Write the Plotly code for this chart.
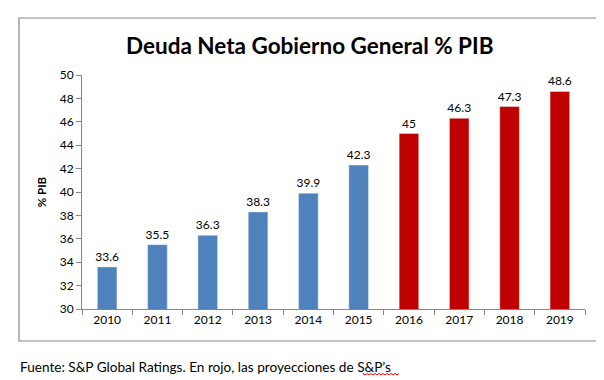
import plotly.graph_objects as go

years = ["2010", "2011", "2012", "2013", "2014", "2015", "2016", "2017", "2018", "2019"]
values = [33.6, 35.5, 36.3, 38.3, 39.9, 42.3, 45, 46.3, 47.3, 48.6]
projected = [False, False, False, False, False, False, True, True, True, True]
labels = ["33.6", "35.5", "36.3", "38.3", "39.9", "42.3", "45", "46.3", "47.3", "48.6"]

BLUE = "#4F81BD"
RED = "#C00000"
colors = [RED if p else BLUE for p in projected]

FONT = "Lato"
W, H = 604, 380
L, R, T, B = 74, 27, 67, 79
pw, ph = W - L - R, H - T - B

def px(x):
    return (x - L) / pw

def py(y):
    return (H - B - y) / ph

fig = go.Figure(go.Bar(
    x=years, y=values, marker_color=colors, width=0.39,
    text=labels, textposition="outside", cliponaxis=False, constraintext="none",
    textfont=dict(family=FONT, size=12, color="#000"),
))

fig.update_layout(
    width=W, height=H, margin=dict(l=L, r=R, t=T, b=B),
    paper_bgcolor="white", plot_bgcolor="white", showlegend=False,
    font=dict(family=FONT, color="#000"),
    xaxis=dict(type="category", range=[-0.5, 9.5], showline=True, linecolor="#868686",
               linewidth=1, ticks="outside", tickson="boundaries", ticklen=5,
               tickcolor="#868686", tickfont=dict(family=FONT, size=12, color="#000"),
               showgrid=False),
    yaxis=dict(range=[30, 50], dtick=2, showline=True, linecolor="#868686", linewidth=1,
               ticks="outside", ticklen=5, tickcolor="#868686", showgrid=False,
               tickfont=dict(family=FONT, size=12, color="#000"), zeroline=False,
               title=dict(text="<b>% PIB</b>", font=dict(family=FONT, size=11.5), standoff=10)),
)

# chart border
fig.add_shape(type="rect", xref="paper", yref="paper",
              x0=px(11), x1=px(592), y0=py(333), y1=py(10),
              line=dict(color="#868686", width=1.2), fillcolor="rgba(0,0,0,0)")

fig.add_annotation(xref="paper", yref="paper", x=px(302), y=py(37),
                   text="<b>Deuda Neta Gobierno General % PIB</b>", showarrow=False,
                   font=dict(family=FONT, size=22.5, color="#000"), xanchor="center", yanchor="middle")

fig.add_annotation(xref="paper", yref="paper", x=px(10), y=py(359),
                   text="Fuente: S&P Global Ratings. En rojo, las proyecciones de S&P’s",
                   showarrow=False, font=dict(family=FONT, size=13.6, color="#000"),
                   xanchor="left", yanchor="middle")

# wavy spell-check underline
xs = list(range(355, 392, 2))
path = "M " + " L ".join(f"{px(x)},{py(366 + (1 if i % 2 else -0.5))}" for i, x in enumerate(xs))
fig.add_shape(type="path", xref="paper", yref="paper", path=path,
              line=dict(color="#E00000", width=1))

fig.write_html("out.html")
